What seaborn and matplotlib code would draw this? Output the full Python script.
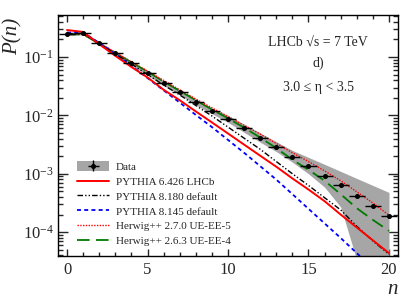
import matplotlib
matplotlib.use("Agg")
import matplotlib.pyplot as plt
from matplotlib.patches import Patch
from matplotlib.lines import Line2D
from matplotlib.ticker import MultipleLocator, LogLocator, NullFormatter
import seaborn as sns
import numpy as np

# ---------------- data ----------------
n = list(range(0, 21))

data = [0.251, 0.257, 0.172, 0.115, 0.0776, 0.0525, 0.0355, 0.0251, 0.0170, 0.0120,
        0.00871, 0.00603, 0.00417, 0.00288, 0.00195, 0.00135, 0.000912, 0.000631,
        0.000417, 0.000282, 0.000186]
data_err = [0.006, 0.006, 0.004, 0.003, 0.002, 0.0013, 0.0009, 0.0007, 0.0005, 0.00035,
            0.00027, 0.0002, 0.00014, 0.0001, 7e-5, 5e-5, 3.5e-5, 2.5e-5, 1.8e-5, 1.3e-5, 1e-5]
band_hi = [0.269, 0.275, 0.184, 0.123, 0.0832, 0.0562, 0.0389, 0.0275, 0.0191, 0.0135,
           0.0100, 0.00708, 0.00501, 0.00355, 0.00251, 0.00191, 0.00145, 0.00110,
           0.000832, 0.000631, 0.000479]
band_lo = [0.234, 0.240, 0.160, 0.107, 0.0724, 0.0490, 0.0324, 0.0229, 0.0151, 0.0107,
           0.00759, 0.00513, 0.00347, 0.00240, 0.00158, 0.00100, 0.000589, 0.000269,
           3.3e-5, 1.0e-5, 3.2e-6]

pythia6_lhcb = [0.290, 0.269, 0.166, 0.105, 0.0676, 0.0447, 0.0275, 0.0182, 0.0117, 0.00759,
                0.00490, 0.00316, 0.00204, 0.00132, 0.000832, 0.000537, 0.000339, 0.000200,
                0.000120, 7.24e-5, 4.37e-5]
pythia8_180 = [0.251, 0.251, 0.170, 0.112, 0.0759, 0.0501, 0.0331, 0.0224, 0.0148, 0.00977,
               0.00631, 0.00407, 0.00263, 0.00162, 0.00100, 0.000631, 0.000389, 0.000240,
               0.000126, 7.08e-5, 4.17e-5]
pythia8_145 = [0.263, 0.263, 0.174, 0.112, 0.0708, 0.0437, 0.0269, 0.0166, 0.0102, 0.00631,
               0.00380, 0.00229, 0.00135, 0.000794, 0.000447, 0.000251, 0.000141, 7.94e-5,
               4.37e-5, 2.40e-5, 1.32e-5]
herwig270 = [0.251, 0.251, 0.174, 0.120, 0.0832, 0.0575, 0.0398, 0.0275, 0.0191, 0.0135,
             0.00955, 0.00676, 0.00479, 0.00331, 0.00229, 0.00162, 0.00112, 0.000759,
             0.000490, 0.000316, 0.000195]
herwig263 = [0.245, 0.245, 0.170, 0.117, 0.0813, 0.0562, 0.0380, 0.0263, 0.0182, 0.0126,
             0.00891, 0.00617, 0.00417, 0.00275, 0.00174, 0.00117, 0.000759, 0.000447,
             0.000257, 0.000162, 0.000105]

labels = ["Data", "PYTHIA 6.426 LHCb", "PYTHIA 8.180 default", "PYTHIA 8.145 default",
          "Herwig++ 2.7.0 UE-EE-5", "Herwig++ 2.6.3 UE-EE-4"]
x_ticks = [0, 5, 10, 15, 20]

# ---------------- style ----------------
sns.set_style("ticks")
plt.rcParams["font.family"] = ["Liberation Serif", "DejaVu Serif"]
plt.rcParams["mathtext.fontset"] = "custom"
plt.rcParams["mathtext.rm"] = "Liberation Serif"
plt.rcParams["mathtext.it"] = "Liberation Serif:italic"
plt.rcParams["mathtext.default"] = "regular"
plt.rcParams["axes.linewidth"] = 1.0

fig = plt.figure(figsize=(4.19, 3.04), dpi=100)
ax = fig.add_axes([58 / 419, 1 - 256 / 304, 340 / 419, 241 / 304])

grey = "#a6a6a6"
ls_p6 = "-"
ls_p8a = (0, (4, 1.5, 1, 1.5, 1, 1.5))
ls_p8b = (0, (2.2, 1.8))
ls_h27 = (0, (1, 1))
ls_h26 = (0, (7, 3.5))
c_red, c_blue, c_green = "#ff0000", "#0000ff", "#007a00"

ax.fill_between(n, band_lo, band_hi, color=grey, lw=0, zorder=1)

sns.lineplot(x=n, y=herwig263, ax=ax, color=c_green, lw=1.3, linestyle=ls_h26, zorder=2)
sns.lineplot(x=n, y=herwig270, ax=ax, color=c_red, lw=1.0, linestyle=ls_h27, zorder=2)
sns.lineplot(x=n, y=pythia8_145, ax=ax, color=c_blue, lw=1.3, linestyle=ls_p8b, zorder=2)
sns.lineplot(x=n, y=pythia8_180, ax=ax, color="black", lw=1.0, linestyle=ls_p8a, zorder=2)
sns.lineplot(x=n, y=pythia6_lhcb, ax=ax, color=c_red, lw=1.4, linestyle=ls_p6, zorder=2)

eb = ax.errorbar(n, data, yerr=data_err, xerr=0.5, fmt="o", color="black",
                 ms=2.6, lw=1.0, capsize=0, zorder=4)

ax.set_yscale("log")
ax.set_xlim(-0.56, 20.56)
ax.set_ylim(3.9e-5, 0.525)

ax.set_xticks(x_ticks)
ax.xaxis.set_minor_locator(MultipleLocator(1))
ax.yaxis.set_major_locator(LogLocator(base=10, numticks=10))
ax.yaxis.set_minor_locator(LogLocator(base=10, subs=np.arange(2, 10), numticks=20))
ax.yaxis.set_minor_formatter(NullFormatter())
ax.tick_params(axis="both", which="both", direction="in", top=True, right=True,
               labelsize=12, width=1.0)
ax.tick_params(axis="x", which="major", length=5, pad=4)
ax.tick_params(axis="x", which="minor", length=3)
ax.tick_params(axis="y", which="major", length=7, pad=3)
ax.tick_params(axis="y", which="minor", length=3.5)
for s in ax.spines.values():
    s.set_visible(True)
    s.set_color("black")

ax.set_xlabel("n", fontsize=15, style="italic", loc="right", labelpad=2)
ax.set_ylabel("")
fig.text(13 / 419, 1 - 36 / 304, "P(n)", rotation=90, fontsize=15, style="italic",
         ha="center", va="center")

ax.text(0.765, 0.885, "LHCb \u221as = 7 TeV", transform=ax.transAxes,
        ha="center", va="center", fontsize=10)
ax.text(0.765, 0.80, "d)", transform=ax.transAxes, ha="center", va="center", fontsize=10)
ax.text(0.765, 0.70, "3.0 \u2264 \u03b7 < 3.5", transform=ax.transAxes,
        ha="center", va="center", fontsize=10)

h_p6 = Line2D([], [], color=c_red, lw=1.4, linestyle=ls_p6)
h_p8a = Line2D([], [], color="black", lw=1.0, linestyle=ls_p8a)
h_p8b = Line2D([], [], color=c_blue, lw=1.3, linestyle=ls_p8b)
h_h27 = Line2D([], [], color=c_red, lw=1.0, linestyle=ls_h27)
h_h26 = Line2D([], [], color=c_green, lw=1.3, linestyle=ls_h26)
h_data = (Patch(facecolor=grey, edgecolor="none"), eb)
ax.legend([h_data, h_p6, h_p8a, h_p8b, h_h27, h_h26], labels,
          loc="upper left", bbox_to_anchor=((77 - 58) / 340, (256 - 161.5) / 241),
          frameon=False, fontsize=8, handlelength=2.9, handleheight=1.0,
          handletextpad=0.6, labelspacing=0.36, borderpad=0, borderaxespad=0)

fig.savefig("out.png", dpi=100)
